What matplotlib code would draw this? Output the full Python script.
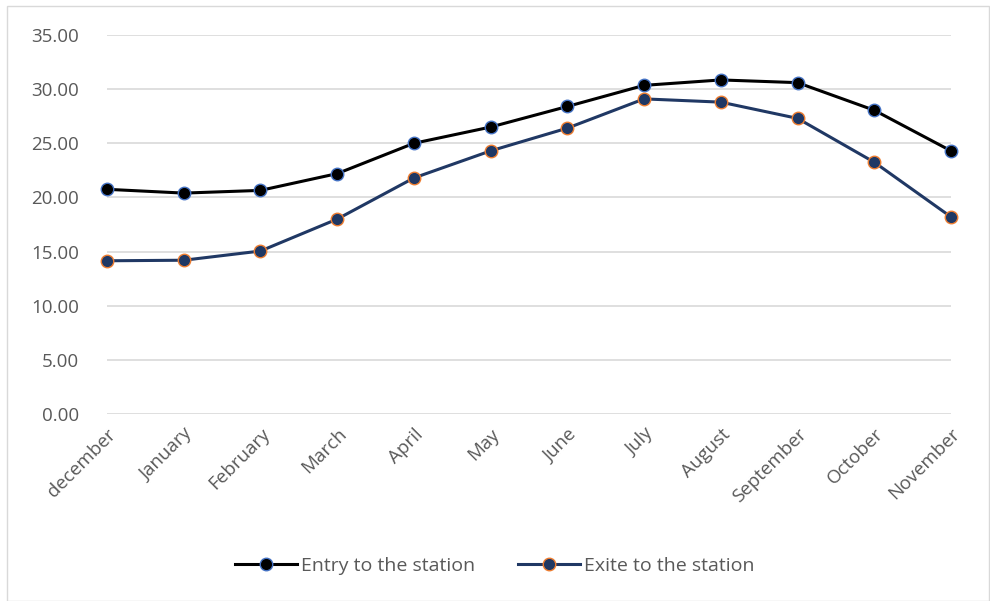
import matplotlib.pyplot as plt
from matplotlib.patches import Rectangle

months = ["december", "January", "February", "March", "April", "May",
          "June", "July", "August", "September", "October", "November"]
entry = [20.75, 20.4, 20.65, 22.2, 25.0, 26.5, 28.4, 30.35, 30.85, 30.6, 28.05, 24.3]
exite = [14.15, 14.2, 15.05, 18.0, 21.8, 24.3, 26.4, 29.1, 28.8, 27.3, 23.25, 18.2]
yticks = [0, 5, 10, 15, 20, 25, 30, 35]

plt.rcParams['font.family'] = ['Open Sans', 'DejaVu Sans']
grey = '#595959'

fig = plt.figure(figsize=(9.9, 6.01), dpi=100)
fig.patches.append(Rectangle((7/990, 0), 982/990, 595/601, transform=fig.transFigure,
                             fill=False, edgecolor='#d9d9d9', linewidth=1))
ax = fig.add_axes([107/990, 1 - 414/601, 844/990, 379/601])

x = range(len(months))
ax.plot(x, entry, color='black', linewidth=2.2, marker='o', markersize=9,
        markerfacecolor='black', markeredgecolor='#4472C4', markeredgewidth=1,
        label='Entry to the station', clip_on=False, zorder=3)
ax.plot(x, exite, color='#203864', linewidth=2.2, marker='o', markersize=9,
        markerfacecolor='#1F3864', markeredgecolor='#ED7D31', markeredgewidth=1,
        label='Exite to the station', clip_on=False, zorder=3)

ax.set_xlim(0, len(months) - 1)
ax.set_ylim(0, 35)
ax.set_yticks(yticks)
ax.set_yticklabels([f"{v:.2f}" for v in yticks], fontsize=13.5, color=grey)
ax.set_xticks(list(x))
ax.set_xticklabels(months, rotation=45, ha='right', rotation_mode='anchor',
                   fontsize=13.5, color=grey)
ax.tick_params(axis='both', length=0)
ax.tick_params(axis='y', pad=20)
ax.tick_params(axis='x', pad=8)
ax.grid(axis='y', color='#d9d9d9', linewidth=1.2)
ax.set_axisbelow(True)
for s in ax.spines.values():
    s.set_visible(False)

fig.legend(loc='center', bbox_to_anchor=(0.5, 1 - 566/601), ncol=2, frameon=False,
           fontsize=14, labelcolor=grey, handlelength=3.2, columnspacing=2.2,
           handletextpad=0.2)

plt.savefig("out.png")
